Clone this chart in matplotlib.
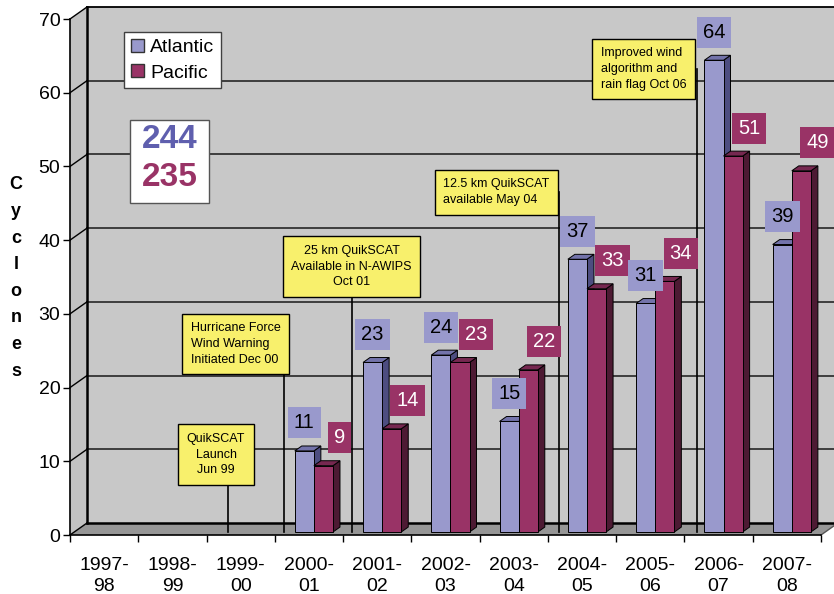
import numpy as np
import matplotlib.pyplot as plt
from matplotlib.patches import Polygon, Rectangle, Patch

plt.rcParams['font.family'] = ['Liberation Sans', 'DejaVu Sans']

# ---------------------------------------------------------
# data
# ---------------------------------------------------------
seasons = ['1997-\n98', '1998-\n99', '1999-\n00', '2000-\n01', '2001-\n02',
           '2002-\n03', '2003-\n04', '2004-\n05', '2005-\n06', '2006-\n07',
           '2007-\n08']
atlantic = [np.nan, np.nan, np.nan, 11, 23, 24, 15, 37, 31, 64, 39]
pacific = [np.nan, np.nan, np.nan, 9, 14, 23, 22, 33, 34, 51, 49]
series_names = ['Atlantic', 'Pacific']

event_text = ['QuikSCAT\nLaunch\nJun 99',
              'Hurricane Force\nWind Warning\nInitiated Dec 00',
              '25 km QuikSCAT\nAvailable in N-AWIPS\nOct 01',
              '12.5 km QuikSCAT\navailable May 04',
              'Improved wind\nalgorithm and\nrain flag Oct 06']
event_x = [2.31, 3.13, 4.13, 7.16, 9.18]   # position along the season axis

# ---------------------------------------------------------
# style / geometry
# ---------------------------------------------------------
atl_front, atl_side, atl_top = '#9999cc', '#4d4d80', '#7373aa'
pac_front, pac_side, pac_top = '#993366', '#4d1a33', '#762850'
wall = '#c8c8c8'
side_wall = '#c2c2c2'
floor = '#969696'
note_yellow = '#f8f06c'

DX, DY = 0.249, 1.63          # depth of the 3-D box in data units
D0, D1 = 0.25, 0.66           # depth range occupied by the bars
BAR_W = 0.28
BAR_OFF = 0.23
YMAX = 70
n = len(seasons)


def proj(x, y, d):
    return (x + d * DX, y + d * DY)


fig = plt.figure(figsize=(8.34, 5.94), dpi=100)
ax = fig.add_axes([70 / 834, 59 / 594, 751 / 834, 516 / 594])
ax.set_xlim(0, n)
ax.set_ylim(0, YMAX)

# ---------------------------------------------------------
# walls and floor
# ---------------------------------------------------------
back = [proj(0, 0, 1), proj(n, 0, 1), proj(n, YMAX, 1), proj(0, YMAX, 1)]
left = [(0, 0), (0, YMAX), proj(0, YMAX, 1), proj(0, 0, 1)]
flr = [(0, 0), (n, 0), proj(n, 0, 1), proj(0, 0, 1)]
for pts, c in [(back, wall), (left, side_wall), (flr, floor)]:
    ax.add_patch(Polygon(pts, closed=True, fc=c, ec='none', zorder=0.5,
                         clip_on=False))

# grid lines on back wall + diagonals on side wall
for v in range(10, YMAX + 1, 10):
    a, b = proj(0, v, 1), proj(n, v, 1)
    ax.plot([a[0], b[0]], [a[1], b[1]], color='#333333' if v < YMAX else 'black',
            lw=1.3, zorder=0.8, clip_on=False)
for v in range(0, YMAX + 1, 10):
    a = proj(0, v, 1)
    ax.plot([0, a[0]], [v, a[1]], color='black', lw=1.0, zorder=0.8,
            clip_on=False)

a, b, c = proj(0, 0, 1), proj(0, YMAX, 1), proj(n, 0, 1)
ax.plot([a[0], b[0]], [a[1], b[1]], color='black', lw=1.8, zorder=0.9,
        clip_on=False)
ax.plot([a[0], c[0]], [a[1], c[1]], color='black', lw=1.8, zorder=0.9,
        clip_on=False)
ax.plot([n, c[0]], [0, c[1]], color='#555555', lw=1.0, zorder=0.9,
        clip_on=False)

# ---------------------------------------------------------
# event call-outs
# ---------------------------------------------------------
note_pos = [(2.139, 10.9, 'center'), (2.424, 25.9, 'left'),
            (4.123, 36.4, 'center'), (6.247, 46.5, 'left'),
            (8.40, 63.2, 'left')]
for txt, ex, (tx, ty, al) in zip(event_text, event_x, note_pos):
    ax.plot([ex, ex], [ty, D0 * DY], color='black', lw=1.2, zorder=1,
            clip_on=False)
    ax.text(tx, ty, txt, ha='center', va='center', multialignment=al,
            fontsize=9, linespacing=1.42, zorder=4,
            bbox=dict(boxstyle='square,pad=0.68', fc=note_yellow,
                      ec='black', lw=1.0))

# ---------------------------------------------------------
# bars
# ---------------------------------------------------------
series = [(atlantic, atl_front, atl_side, atl_top, 'black', 0, 28),
          (pacific, pac_front, pac_side, pac_top, 'white', 16, 28)]
for i in range(n):
    for s, (vals, cf, cs, ct, tc, offx, offy) in enumerate(series):
        v = vals[i]
        if np.isnan(v):
            continue
        x0 = i + BAR_OFF + s * BAR_W
        x1 = x0 + BAR_W
        front = [proj(x0, 0, D0), proj(x1, 0, D0), proj(x1, v, D0),
                 proj(x0, v, D0)]
        top = [proj(x0, v, D0), proj(x1, v, D0), proj(x1, v, D1),
               proj(x0, v, D1)]
        side = [proj(x1, 0, D0), proj(x1, 0, D1), proj(x1, v, D1),
                proj(x1, v, D0)]
        z = 2 + i * 0.1 + s * 0.05
        for pts, col in [(side, cs), (top, ct), (front, cf)]:
            ax.add_patch(Polygon(pts, closed=True, fc=col, ec='black',
                                 lw=0.7, zorder=z, clip_on=False))
        cx, cy = proj((x0 + x1) / 2, v, D0)
        ax.annotate(f'{int(v)}', xy=(cx, cy), xytext=(offx, offy),
                    textcoords='offset pixels', ha='center', va='center',
                    fontsize=14.5, color=tc, zorder=5,
                    bbox=dict(boxstyle='square,pad=0.3', fc=cf, ec='none'))

# ---------------------------------------------------------
# axes, ticks
# ---------------------------------------------------------
for sp in ['top', 'right']:
    ax.spines[sp].set_visible(False)
ax.spines['left'].set_linewidth(1.2)
ax.spines['bottom'].set_linewidth(1.2)
ax.set_yticks(range(0, YMAX + 1, 10))
ax.tick_params(axis='y', labelsize=14, length=5, width=1, pad=2)
ax.set_xticks(range(n + 1))
ax.set_xticklabels([])
ax.set_xticks(np.arange(n) + 0.5, minor=True)
ax.set_xticklabels(seasons, minor=True, fontsize=14, linespacing=1.32)
ax.tick_params(axis='x', which='major', length=5, width=1)
ax.tick_params(axis='x', which='minor', length=0, pad=15.5)
ax.patch.set_visible(False)

fig.text(16 / 834, 0.532, '\n'.join('Cyclones'), ha='center', va='center',
         fontsize=13, fontweight='bold', linespacing=1.74)

# ---------------------------------------------------------
# legend and totals
# ---------------------------------------------------------
handles = [Patch(fc=atl_front, ec='#333333'), Patch(fc=pac_front, ec='#333333')]
leg = ax.legend(handles, series_names, loc='upper left',
                bbox_to_anchor=(0.072, 0.975), borderaxespad=0, fontsize=14,
                fancybox=False, framealpha=1, edgecolor='#404040',
                handlelength=0.65, handleheight=0.65, handletextpad=0.35,
                borderpad=0.35, labelspacing=0.42)
leg.get_frame().set_linewidth(1.0)
leg.set_zorder(6)

ax.add_patch(Rectangle((0.0799, 0.6434), 0.1052, 0.1609, transform=ax.transAxes,
                       fc='white', ec='#555555', lw=1.0, zorder=6,
                       clip_on=False))
ax.text(0.1325, 0.767, f'{int(np.nansum(atlantic))}', transform=ax.transAxes,
        ha='center', va='center', fontsize=24, fontweight='bold',
        color='#5f5fae', zorder=7)
ax.text(0.1325, 0.692, f'{int(np.nansum(pacific))}', transform=ax.transAxes,
        ha='center', va='center', fontsize=24, fontweight='bold',
        color='#993366', zorder=7)

fig.savefig('out.png', dpi=100)
